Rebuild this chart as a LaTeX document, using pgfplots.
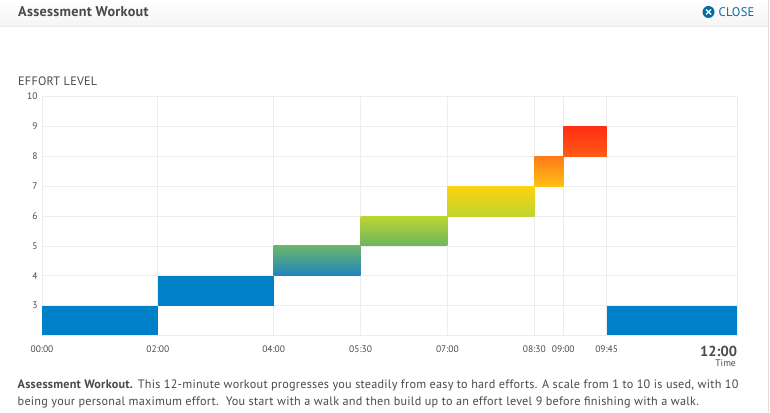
\documentclass[border=0pt]{standalone}
\usepackage{fontspec}
\setmainfont{PT Sans}
\usepackage{pgfplots}
\pgfplotsset{compat=1.18}
\definecolor{gridc}{HTML}{EDEDED}
\definecolor{txt}{HTML}{4A4A4A}
\definecolor{wblue}{HTML}{0080C6}
\newcommand{\ls}{\addfontfeature{LetterSpace=2}}
\begin{document}
\begin{tikzpicture}[x=1pt,y=1pt]
\path[use as bounding box] (0,0) rectangle (770,412);
\fill[white] (0,0) rectangle (770,412);
\shade[top color=white,bottom color=black!4,draw=none] (0,412) rectangle (768,386);
\draw[black!8,line width=0.8pt] (0,386) -- (768,386);
\draw[black!12,line width=1pt] (768.5,0) -- (768.5,412);
\node[anchor=west,inner sep=0pt,text=txt,font=\fontsize{14.2}{16}\selectfont\bfseries\ls] at (18,400) {Assessment Workout};
\fill[wblue!85!black] (708.5,400) circle (6);
\draw[white,line width=1.4pt] (706,397.5) -- (711,402.5) (706,402.5) -- (711,397.5);
\node[anchor=west,inner sep=0pt,text=wblue!85!black,font=\fontsize{12.5}{15}\selectfont\ls] at (718.5,400) {CLOSE};
\node[anchor=west,inner sep=0pt,text=txt,font=\fontsize{12.2}{14}\selectfont\ls] at (18,331) {EFFORT LEVEL};
\begin{axis}[
  anchor=south west, at={(42pt,76.5pt)},
  scale only axis, width=695pt, height=239pt,
  xmin=0, xmax=12, ymin=2, ymax=10,
  xtick={0,2,4,5.5,7,8.5,9,9.75,12},
  xticklabels={00:00,02:00,04:00,05:30,07:00,08:30,09:00,09:45,\llap{\fontsize{14.5}{14}\selectfont\bfseries 12:00}},
  ytick={3,4,5,6,7,8,9,10},
  grid=major, grid style={gridc,line width=0.7pt},
  axis line style={gridc,line width=1pt},
  tick style={draw=none},
  tick label style={text=txt,font=\fontsize{9.5}{11}\selectfont},
  /pgf/number format/assume math mode=true,
  xticklabel style={yshift=-7pt},
  yticklabel style={xshift=-1pt},
  clip=false,
]
\addplot[draw=none,fill=wblue] coordinates {(0,2) (2,2) (2,3) (0,3)} --cycle;
\addplot[draw=none,fill=wblue] coordinates {(2,3) (4,3) (4,4) (2,4)} --cycle;
\addplot[draw=none,top color={rgb,255:red,106;green,181;blue,106},bottom color={rgb,255:red,32;green,133;blue,192}] coordinates {(4,4) (5.5,4) (5.5,5) (4,5)} --cycle;
\addplot[draw=none,top color={rgb,255:red,189;green,214;blue,48},bottom color={rgb,255:red,108;green,181;blue,99}] coordinates {(5.5,5) (7,5) (7,6) (5.5,6)} --cycle;
\addplot[draw=none,top color={rgb,255:red,253;green,210;blue,14},middle color={rgb,255:red,253;green,208;blue,18},bottom color={rgb,255:red,191;green,213;blue,47}] coordinates {(7,6) (8.5,6) (8.5,7) (7,7)} --cycle;
\addplot[draw=none,top color={rgb,255:red,255;green,122;blue,24},bottom color={rgb,255:red,255;green,192;blue,21}] coordinates {(8.5,7) (9,7) (9,8) (8.5,8)} --cycle;
\addplot[draw=none,top color={rgb,255:red,255;green,45;blue,20},bottom color={rgb,255:red,255;green,90;blue,20}] coordinates {(9,8) (9.75,8) (9.75,9) (9,9)} --cycle;
\addplot[draw=none,fill=wblue] coordinates {(9.75,2) (12,2) (12,3) (9.75,3)} --cycle;
\end{axis}
\node[anchor=east,inner sep=0pt,text=txt,font=\fontsize{9.5}{11}\selectfont] at (736,48.5) {Time};
\node[anchor=west,inner sep=0pt,text=txt,font=\fontsize{12.2}{14}\selectfont\ls] at (17.5,27) {\textbf{Assessment Workout.} This 12-minute workout progresses you steadily from easy to hard efforts. A scale from 1 to 10 is used, with 10};
\node[anchor=west,inner sep=0pt,text=txt,font=\fontsize{12.2}{14}\selectfont\ls] at (17.5,10) {being your personal maximum effort.\ \ You start with a walk and then build up to an effort level 9 before finishing with a walk.};
\end{tikzpicture}
\end{document}
